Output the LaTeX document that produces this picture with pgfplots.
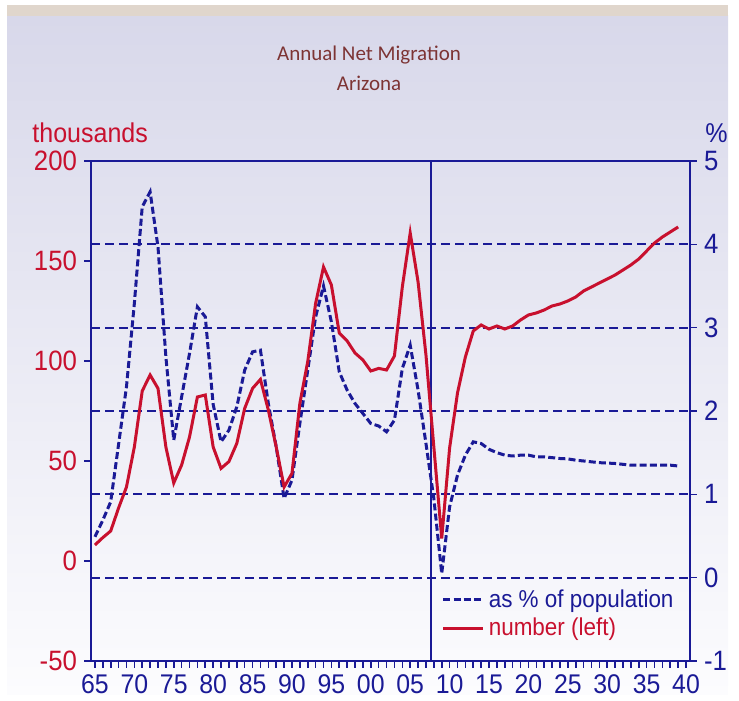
\documentclass[border=0pt]{standalone}
\usepackage{fontspec}
\setmainfont{Liberation Sans}[FakeStretch=0.92]
\newfontfamily\titlefont{Carlito}
\usepackage{pgfplots}
\usepackage{pgfplotstable}
\pgfplotsset{compat=1.18}
\definecolor{navy}{RGB}{26,26,150}
\definecolor{crim}{RGB}{200,16,46}
\definecolor{ttl}{RGB}{125,52,52}
\definecolor{lav}{RGB}{216,216,234}
\definecolor{bot}{RGB}{252,252,254}
\definecolor{tanbar}{RGB}{224,214,204}

\pgfplotstableread{
year num pct
1965 8 0.49
1966 11.7 0.69
1967 15 0.91
1968 26.5 1.6
1969 37 2.29
1970 57 3.29
1971 85 4.45
1972 93 4.63
1973 86.3 3.97
1974 57 2.65
1975 39 1.65
1976 48 2.17
1977 62 2.69
1978 82 3.25
1979 83 3.13
1980 57 2.08
1981 46.3 1.63
1982 49.7 1.77
1983 58.8 2.05
1984 76.3 2.49
1985 86.3 2.71
1986 90.8 2.73
1987 75.5 2.09
1988 57 1.57
1989 37 0.95
1990 43.8 1.17
1991 78.8 1.85
1992 99.7 2.49
1993 128.8 3.13
1994 147 3.5
1995 138 3.07
1996 114 2.47
1997 110 2.25
1998 104 2.09
1999 100.5 1.97
2000 95 1.85
2001 96.3 1.82
2002 95.5 1.75
2003 102.5 1.89
2004 137 2.51
2005 164 2.79
2006 139.5 2.25
2007 103 1.61
2008 57 0.95
2009 11.3 0.05
2010 56.5 0.85
2011 84 1.23
2012 102 1.47
2013 115 1.63
2014 118 1.61
2015 116 1.54
2016 117.5 1.50
2017 116 1.47
2018 117.5 1.46
2019 120.5 1.47
2020 123 1.47
2021 124 1.45
2022 125.5 1.45
2023 127.5 1.44
2024 128.5 1.43
2025 130 1.425
2026 132 1.41
2027 135 1.40
2028 137 1.39
2029 139 1.38
2030 141 1.375
2031 143 1.37
2032 145.5 1.36
2033 148 1.35
2034 151 1.35
2035 155 1.35
2036 159 1.35
2037 162 1.35
2038 164.5 1.35
2039 167 1.34
}\mig

\begin{document}
\begin{tikzpicture}
\begin{scope}[x=0.5pt,y=0.5pt]
\path (0,0) rectangle (739,695);
\shade[top color=lav, bottom color=bot] (7,0) rectangle (728,679);
\fill[tanbar] (7,679) rectangle (728,690);
\node[font=\titlefont\fontsize{10.5}{12}\selectfont, text=ttl] at (369,640) {Annual Net Migration};
\node[font=\titlefont\fontsize{10.5}{12}\selectfont, text=ttl] at (369,612) {Arizona};
\node[anchor=west, text=crim, font=\fontsize{13.6}{15}\selectfont, inner sep=0pt] at (32,562) {thousands};
\node[anchor=west, text=navy, font=\fontsize{13.6}{15}\selectfont, inner sep=0pt] at (705,562) {\%};
\end{scope}

% right axis (percent) with grid
\begin{axis}[at={(45.5pt,17pt)}, anchor=south west, scale only axis,
  width=299.5pt, height=250pt,
  xmin=1964.5, xmax=2040.5, ymin=-1, ymax=5,
  axis line style={navy, line width=0.8pt},
  xtick=\empty,
  ytick={-1,0,1,2,3,4,5},
  yticklabels={-1,0,1,2,3,4,5},
  ytick pos=right, tick align=outside,
  major tick length=3.5pt,
  tick style={navy, line width=0.8pt},
  yticklabel style={text=navy, font=\fontsize{14}{16}\selectfont},
  ymajorgrids, grid style={navy, line width=0.9pt, dash pattern=on 4.5pt off 2.5pt},
  clip=false]
\addplot[navy, line width=1.5pt, dash pattern=on 3.5pt off 1.6pt] table[x=year, y=pct] {\mig};
\end{axis}

% left axis (thousands)
\begin{axis}[at={(45.5pt,17pt)}, anchor=south west, scale only axis,
  width=299.5pt, height=250pt,
  xmin=1964.5, xmax=2040.5, ymin=-50, ymax=200,
  axis line style={navy, line width=0.8pt},
  xtick={1965,1970,...,2040},
  xticklabels={65,70,75,80,85,90,95,00,05,10,15,20,25,30,35,40},
  minor x tick num=4,
  xtick pos=left, ytick pos=left, tick align=outside,
  major tick length=3.5pt, minor tick length=3.5pt,
  tick style={navy, line width=0.8pt},
  ytick={-50,0,50,100,150,200},
  yticklabels={-50,0,50,100,150,200},
  yticklabel style={text=crim, font=\fontsize{14}{16}\selectfont},
  xticklabel style={text=navy, font=\fontsize{13.5}{15}\selectfont},
  legend image code/.code={\draw[#1] (0pt,0pt) -- (20pt,0pt);},
  legend style={draw=none, fill=none, at={(0.585,0.152)}, anchor=north west,
    font=\fontsize{12.2}{14}\selectfont, inner sep=0pt, row sep=0pt,
    nodes={inner sep=2pt}},
  legend cell align=left]
\addplot[navy, line width=0.9pt, forget plot] coordinates {(2007.6,-50) (2007.6,200)};
\addlegendimage{navy, line width=1.5pt, dash pattern=on 3.5pt off 1.6pt}
\addlegendentry{\textcolor{navy}{as \% of population}}
\addplot[crim, line width=1.5pt] table[x=year, y=num] {\mig};
\addlegendentry{\textcolor{crim}{number (left)}}
\end{axis}
\end{tikzpicture}
\end{document}
